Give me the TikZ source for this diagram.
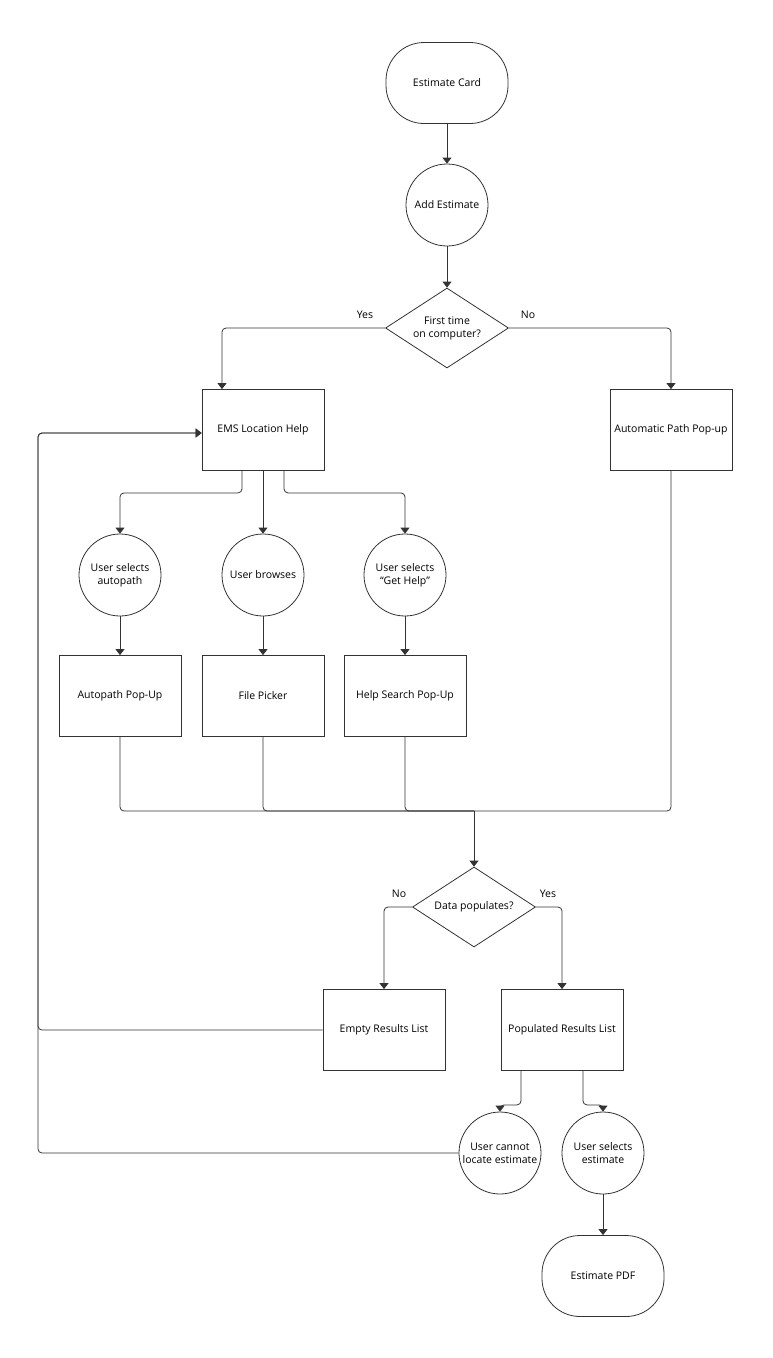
\documentclass[tikz,border=0pt]{standalone}
\usepackage{fontspec}
\setmainfont{Open Sans}
\usepackage{tikz}
\usetikzlibrary{arrows.meta,shapes.geometric}

\tikzset{
	line/.style={draw=black!80, line width=0.8pt, rounded corners=4pt},
	arr/.style={line, -{Triangle[width=9pt,length=6pt]}},
	box/.style={draw=black!80, line width=0.8pt, minimum width=122pt, minimum height=81pt, inner sep=0pt, align=center},
	term/.style={box, rounded corners=38pt},
	act/.style={draw=black!80, line width=0.8pt, circle, minimum size=82pt, inner sep=0pt, align=center},
	dec/.style={draw=black!80, line width=0.8pt, diamond, minimum width=123pt, minimum height=80pt, inner sep=-10pt, align=center},
	lbl/.style={inner sep=0pt}
}

\begin{document}
\begin{tikzpicture}[x=1pt, y=-1pt, font=\fontsize{10.5}{13}\selectfont]
	\useasboundingbox (0,0) rectangle (772,1358);

	\node [term] (card) at (447, 83) {Estimate Card};
	\node [act] (add) at (447, 205) {Add Estimate};
	\node [dec] (first) at (447, 328) {First time\\on computer?};
	\node [lbl] (yes1) at (365, 315) {Yes};
	\node [lbl] (no1) at (528, 315) {No};

	\node [box] (ems) at (263, 430) {EMS Location Help};
	\node [box] (autopop) at (671, 430) {Automatic Path Pop-up};

	\node [act] (selauto) at (120, 575) {User selects\\autopath};
	\node [act] (browse) at (263, 575) {User browses};
	\node [act] (gethelp) at (405, 575) {User selects\\``Get Help''};

	\node [box] (autopath) at (120, 696) {Autopath Pop-Up};
	\node [box] (picker) at (263, 696) {File Picker};
	\node [box] (helpsearch) at (405, 696) {Help Search Pop-Up};

	\coordinate (merge) at (474, 811);
	\node [dec] (data) at (474, 907) {Data populates?};
	\node [lbl] (no2) at (399, 894) {No};
	\node [lbl] (yes2) at (548, 894) {Yes};

	\node [box] (empty) at (384, 1030) {Empty Results List};
	\node [box] (populated) at (562, 1030) {Populated Results List};

	\node [act] (cannot) at (500, 1153) {User cannot\\locate estimate};
	\node [act] (selest) at (603, 1153) {User selects\\estimate};
	\node [term] (pdf) at (603, 1276) {Estimate PDF};

	\coordinate (back) at (38, 433);

	% top
	\draw [arr] (card) -- (add);
	\draw [arr] (add) -- (first);
	\draw [arr] (first.west) -| ([xshift=-41pt]ems.north);
	\draw [arr] (first.east) -| (autopop.north);

	% help branches
	\draw [arr] ([xshift=-21pt]ems.south) -- ++(0,22) -| (selauto.north);
	\draw [arr] (ems.south) -- (browse.north);
	\draw [arr] ([xshift=21pt]ems.south) -- ++(0,22) -| (gethelp.north);
	\draw [arr] (selauto) -- (autopath);
	\draw [arr] (browse) -- (picker);
	\draw [arr] (gethelp) -- (helpsearch);

	% merge
	\draw [line] (autopath.south) |- (merge);
	\draw [line] (picker.south) |- (merge);
	\draw [line] (helpsearch.south) |- (merge);
	\draw [line] (autopop.south) |- (merge);
	\draw [arr] (merge) -- (data.north);

	\draw [arr] (data.west) -| (empty.north);
	\draw [arr] (data.east) -| (populated.north);

	% loop back
	\draw [arr] (empty.west) -| (back) -- (ems.west |- back);
	\draw [arr] (cannot.west) -| (back) -- (ems.west |- back);

	\draw [arr] ([xshift=-41pt]populated.south) -- ++(0,34) -| (cannot.north);
	\draw [arr] ([xshift=21pt]populated.south) -- ++(0,34) -| (selest.north);
	\draw [arr] (selest) -- (pdf);

\end{tikzpicture}
\end{document}
